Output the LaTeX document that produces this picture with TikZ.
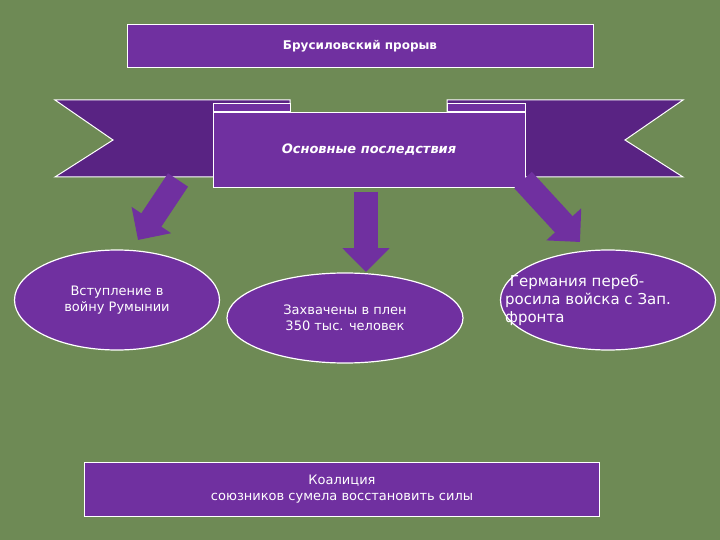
\documentclass[tikz,border=0pt]{standalone}
\usepackage{fontspec}
\setmainfont{DejaVu Sans}
\usetikzlibrary{arrows.meta,shapes.geometric}
\definecolor{bg}{HTML}{6E8A55}
\definecolor{pur}{HTML}{7030A0}
\definecolor{pdark}{HTML}{4A1A70}
\tikzset{
  pbox/.style={fill=pur,draw=white,line width=1pt},
  ell/.style={ellipse,fill=pur,draw=white,line width=1.2pt,text=white,align=center,font=\fontsize{13}{16}\selectfont},
  blk/.style={line width=24pt,draw=pur,-{Triangle[width=46pt,length=24pt]}},
}
\begin{document}
\begin{tikzpicture}[x=1pt,y=-1pt]
\fill[bg] (0,0) rectangle (720,540);
\useasboundingbox (0,0) rectangle (720,540);
% title
\node[pbox,minimum width=466pt,minimum height=43pt,text=white,font=\fontsize{12}{14}\selectfont\bfseries] (title) at (360,46) {Брусиловский прорыв};
% banner tails
\draw[pbox,fill=pdark!60!pur] (55,100) -- (290,100) -- (290,177) -- (55,177) -- (113,140) -- cycle;
\draw[pbox,fill=pdark!60!pur] (683,100) -- (447,100) -- (447,177) -- (683,177) -- (625,140) -- cycle;
\draw[pbox] (213,104) rectangle (290,112);
\draw[pbox] (447,104) rectangle (525,112);
\node[pbox,minimum width=312pt,minimum height=75pt,text=white,font=\fontsize{13}{15}\selectfont\bfseries\itshape] (banner) at (369,150) {Основные последствия};
% ellipses
\node[ell,minimum width=205pt,minimum height=100pt] (e1) at (117,300) {Вступление в\\войну Румынии};
\node[ell,minimum width=236pt,minimum height=90pt] (e2) at (345,318) {Захвачены в плен\\350 тыс. человек};
\node[ell,minimum width=215pt,minimum height=100pt] (e3) at (608,300) {};
\node[text=white,align=left,font=\fontsize{15}{18}\selectfont,anchor=west,inner sep=0pt] (t3) at (505,300) {\ Германия переб-\\росила войска с Зап.\\фронта};
% arrows
\coordinate (a1s) at (178,180); \coordinate (a1e) at (138,240);
\coordinate (a2s) at (366,192); \coordinate (a2e) at (366,272);
\coordinate (a3s) at (523,180); \coordinate (a3e) at (580,242);
\draw[blk] (a1s) -- (a1e);
\draw[blk] (a2s) -- (a2e);
\draw[blk] (a3s) -- (a3e);
% bottom
\node[pbox,minimum width=515pt,minimum height=54pt,text=white,align=center,font=\fontsize{13}{16}\selectfont] (bot) at (342,489) {Коалиция\\союзников сумела восстановить силы};
\end{tikzpicture}
\end{document}
